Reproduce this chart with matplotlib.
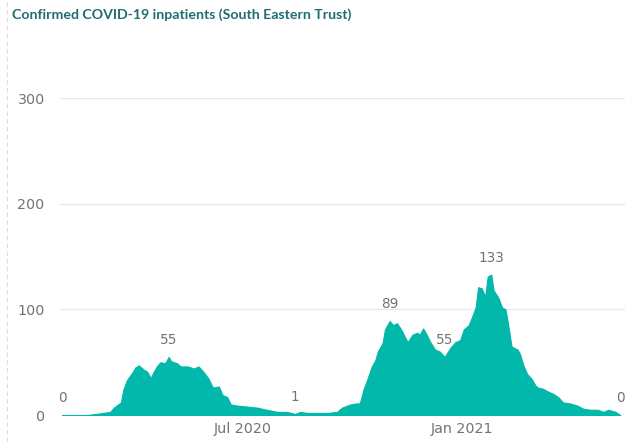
import matplotlib
matplotlib.use("Agg")
import matplotlib.pyplot as plt
from matplotlib.lines import Line2D
import pandas as pd

title = "Confirmed COVID-19 inpatients (South Eastern Trust)"

dates = [
    "2020-02-01", "2020-02-22", "2020-02-29", "2020-03-06", "2020-03-12", "2020-03-15",
    "2020-03-21", "2020-03-23", "2020-03-26", "2020-03-31", "2020-04-02", "2020-04-05",
    "2020-04-09", "2020-04-12", "2020-04-15", "2020-04-17", "2020-04-20", "2020-04-23",
    "2020-04-27", "2020-04-30", "2020-05-02", "2020-05-07", "2020-05-10", "2020-05-16",
    "2020-05-21", "2020-05-25", "2020-05-29", "2020-06-02", "2020-06-06", "2020-06-11",
    "2020-06-14", "2020-06-18", "2020-06-21", "2020-06-26", "2020-07-05", "2020-07-13",
    "2020-07-21", "2020-07-30", "2020-08-07", "2020-08-14", "2020-08-18", "2020-08-24",
    "2020-09-01", "2020-09-10", "2020-09-18", "2020-09-22", "2020-09-29", "2020-10-04",
    "2020-10-07", "2020-10-10", "2020-10-13", "2020-10-17", "2020-10-20", "2020-10-22",
    "2020-10-26", "2020-10-28", "2020-11-01", "2020-11-04", "2020-11-07", "2020-11-10",
    "2020-11-12", "2020-11-16", "2020-11-20", "2020-11-24", "2020-11-26", "2020-11-29",
    "2020-12-02", "2020-12-05", "2020-12-09", "2020-12-13", "2020-12-17", "2020-12-22",
    "2020-12-26", "2020-12-30", "2021-01-02", "2021-01-06", "2021-01-09", "2021-01-12",
    "2021-01-14", "2021-01-17", "2021-01-20", "2021-01-22", "2021-01-25", "2021-01-27",
    "2021-01-31", "2021-02-03", "2021-02-06", "2021-02-08", "2021-02-11", "2021-02-16",
    "2021-02-18", "2021-02-21", "2021-02-24", "2021-02-28", "2021-03-03", "2021-03-05",
    "2021-03-09", "2021-03-14", "2021-03-18", "2021-03-22", "2021-03-26", "2021-04-01",
    "2021-04-07", "2021-04-12", "2021-04-18", "2021-04-24", "2021-04-29", "2021-05-03",
    "2021-05-09", "2021-05-13",
]
inpatients = [
    0, 0, 1, 2, 3, 7,
    12, 24, 33, 41, 45, 47,
    43, 41, 35, 40, 46, 50,
    49, 55, 51, 49, 46, 46,
    44, 46, 41, 35, 26, 27,
    19, 17, 10, 9, 8, 7,
    5, 3, 3, 1, 3, 2,
    2, 2, 3, 7, 10, 11,
    11, 24, 33, 46, 52, 60,
    68, 81, 89, 85, 87, 82,
    78, 69, 76, 78, 76, 82,
    76, 69, 62, 60, 55, 64,
    69, 71, 81, 85, 93, 102,
    121, 120, 112, 131, 133, 118,
    111, 102, 100, 87, 65, 62,
    58, 47, 39, 34, 28, 26,
    25, 22, 20, 17, 12, 11,
    9, 6, 5, 5, 3, 5,
    3, 0,
]
labelled_dates = ["2020-02-01", "2020-04-30", "2020-08-14", "2020-11-01",
                  "2020-12-17", "2021-01-25", "2021-05-13"]

y_ticks = [0, 100, 200, 300]
x_ticks = ["2020-07-01", "2021-01-01"]
x_tick_labels = ["Jul 2020", "Jan 2021"]

teal = "#01B8AA"
grey_text = "#737373"

x = pd.to_datetime(dates)
s = pd.Series(inpatients, index=x)

fig = plt.figure(figsize=(6.25, 4.42), dpi=100)
ax = fig.add_axes([0.096, 0.061, 0.904, 0.717])
ax.fill_between(x, 0, inpatients, color=teal, linewidth=0.8, edgecolor=teal)

ax.set_ylim(0, 300)
ax.set_xlim(pd.Timestamp("2020-01-30"), pd.Timestamp("2021-05-17"))
ax.set_yticks(y_ticks)
ax.set_xticks(pd.to_datetime(x_ticks))
ax.set_xticklabels(x_tick_labels)
ax.grid(axis="y", color="#E8E8E8", linewidth=1)
ax.set_axisbelow(True)
for sp in ax.spines.values():
    sp.set_visible(False)
ax.tick_params(axis="both", length=0, colors=grey_text, labelsize=10.3)
ax.tick_params(axis="y", pad=11)
ax.tick_params(axis="x", pad=5)

for d in labelled_dates:
    t = pd.Timestamp(d)
    ax.annotate(str(s[t]), (t, s[t]), xytext=(0, 12), textcoords="offset points",
                ha="center", va="center", color=grey_text, fontsize=9.8,
                annotation_clip=False)

fig.text(0.019, 0.966, title, color="#1E6E72", fontsize=10.2, fontweight="bold",
         ha="left", va="center", family="Lato")

fig.add_artist(Line2D([0.011, 0.011], [0.0, 1.0], transform=fig.transFigure,
                      color="#DDDDDD", linewidth=0.8, linestyle=(0, (4, 3))))

fig.savefig("out.png", dpi=100)
